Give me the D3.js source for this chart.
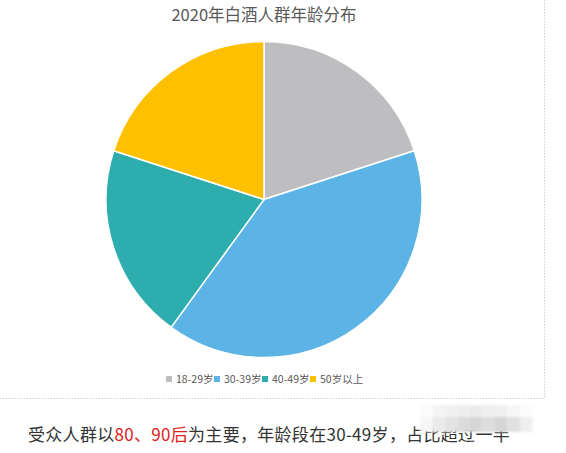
<!DOCTYPE html>
<html>
<head>
<meta charset="utf-8">
<script src="https://cdn.jsdelivr.net/npm/d3@7"></script>
<style>
  html, body { margin: 0; padding: 0; background: #fff; }
  svg { display: block; }
</style>
</head>
<body>
<svg class="chart" width="566" height="453"></svg>
<script>
const ageGroups = ['18-29岁', '30-39岁', '40-49岁', '50岁以上']
const shares = [20, 40, 20, 20]
const sliceColors = ['#bebec0', '#5bb4e5', '#2eadae', '#ffc000']

const svg = d3.select('.chart')
const font = '"Microsoft YaHei","Noto Sans CJK SC","Noto Sans",sans-serif'

const data = ageGroups.map((g, i) => ({ group: g, value: shares[i] }))

const color = d3.scaleOrdinal().domain(ageGroups).range(sliceColors)

// dotted frame of the chart area (only right and bottom visible)
svg.append('path')
  .attr('d', 'M544.5,0 V398.5 H0')
  .attr('fill', 'none')
  .attr('stroke', '#cfcfcf')
  .attr('stroke-width', 1)
  .attr('stroke-dasharray', '1.5,1.5')

svg.append('text')
  .attr('x', 264)
  .attr('y', 21)
  .attr('text-anchor', 'middle')
  .attr('font-family', font)
  .attr('font-size', 16.5)
  .attr('fill', '#595959')
  .text('2020年白酒人群年龄分布')

const radius = 158
const pie = d3.pie().sort(null).value(d => d.value)
const arc = d3.arc().innerRadius(0).outerRadius(radius)

const g = svg.append('g')
  .attr('transform', 'translate(264,199.5)')

g.selectAll('path')
  .data(pie(data))
  .enter()
  .append('path')
  .attr('d', arc)
  .attr('fill', d => color(d.data.group))
  .attr('stroke', '#fff')
  .attr('stroke-width', 1.5)

// legend
const legendX = [166, 214, 262, 310]
const legend = svg.append('g').attr('transform', 'translate(0,379)')
const item = legend.selectAll('g')
  .data(ageGroups)
  .enter()
  .append('g')
  .attr('transform', (d, i) => `translate(${legendX[i]},0)`)
item.append('rect')
  .attr('x', 0).attr('y', -3)
  .attr('width', 6).attr('height', 6)
  .attr('fill', d => color(d))
item.append('text')
  .attr('x', 10)
  .attr('y', 4)
  .attr('font-family', font)
  .attr('font-size', 10.5)
  .attr('fill', '#595959')
  .text(d => d)

// caption under the chart
const caption = svg.append('text')
  .attr('x', 28)
  .attr('y', 441)
  .attr('font-family', font)
  .attr('font-size', 17)
  .attr('letter-spacing', 0.3)
  .attr('fill', '#333')
caption.append('tspan').text('受众人群以')
caption.append('tspan').attr('fill', '#e02020').text('80、90后')
caption.append('tspan').text('为主要，年龄段在30-49岁，占比超过一半')

// mosaic patch over the end of the caption
const defs = svg.append('defs')
defs.append('filter').attr('id', 'soft')
  .append('feGaussianBlur').attr('stdDeviation', 1.2)
const topRow = ['#fbfbfb', '#f4f4f4', '#f1f1f1', '#eeeeee', '#ebebeb', '#efefef', '#f1f1f1', '#f6f6f6', '#fcfcfc']
const lowRow = ['#f6f6f6', '#ebebeb', '#e3e3e3', '#dbdbdb', '#d7d7d7', '#dddddd', '#d6d6d6', '#e1e1e1', '#efefef']
const mosaic = svg.append('g').attr('filter', 'url(#soft)')
mosaic.selectAll('rect.t').data(topRow).enter().append('rect')
  .attr('x', (d, i) => 420 + i * 12.5).attr('y', 405)
  .attr('width', 12.5).attr('height', 12)
  .attr('fill', d => d)
mosaic.selectAll('rect.l').data(lowRow).enter().append('rect')
  .attr('x', (d, i) => 420 + i * 12.5).attr('y', 417)
  .attr('width', 12.5).attr('height', 15)
  .attr('fill', d => d)
</script>
</body>
</html>
